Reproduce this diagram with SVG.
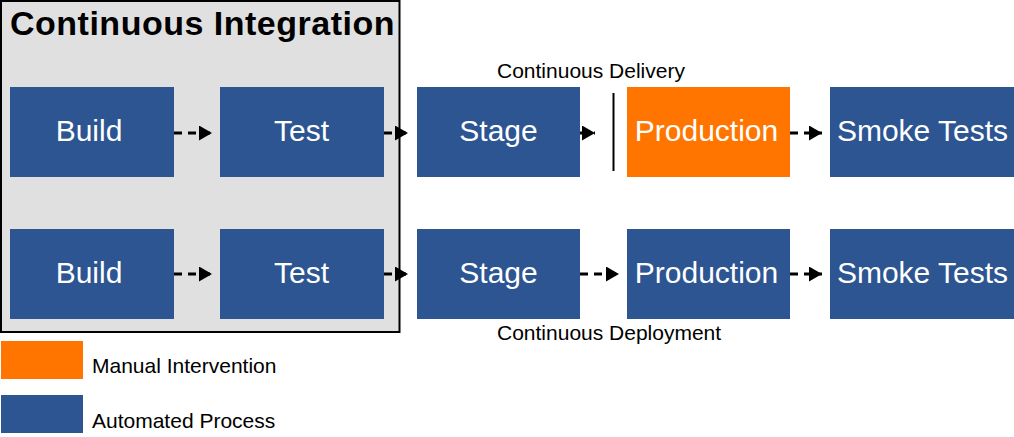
<svg xmlns="http://www.w3.org/2000/svg" width="1014" height="437" viewBox="0 0 1014 437">
<style>
.auto{fill:#2C5592}
.manual{fill:#FF7500}
.nt{font-family:"Liberation Sans",Arial,sans-serif;font-size:30px;fill:#fff;text-anchor:middle}
.lbl{font-family:"Liberation Sans",Arial,sans-serif;font-size:21px;fill:#000}
.conn{stroke:#000;stroke-width:3;stroke-dasharray:8 6;fill:none}
</style>
<defs>
<marker id="ah" markerUnits="userSpaceOnUse" markerWidth="14" markerHeight="15" refX="13" refY="7.5" orient="auto" viewBox="0 0 14 15">
<path d="M0,0 L13,7.5 L0,15 z" fill="#000"/>
</marker>
</defs>
<rect width="1014" height="437" fill="#fff"/>
<g id="ci">
<rect x="1" y="1" width="398.5" height="331" fill="#E0E0E0" stroke="#000" stroke-width="2"/>
<text x="10" y="35" font-family="'Liberation Sans',Arial,sans-serif" font-weight="bold" font-size="34" letter-spacing="0.5" fill="#000">Continuous Integration</text>
</g>
<g id="build1"><rect class="auto" x="10" y="87" width="164" height="90"/><text class="nt" x="89" y="140.5">Build</text></g>
<g id="test1"><rect class="auto" x="220" y="87" width="164" height="90"/><text class="nt" x="301.5" y="140.5">Test</text></g>
<g id="stage1"><rect class="auto" x="417" y="87" width="163" height="90"/><text class="nt" x="498.5" y="140.5">Stage</text></g>
<g id="prod1"><rect class="manual" x="627" y="87" width="163" height="90"/><text class="nt" x="706.5" y="140.5">Production</text></g>
<g id="smoke1"><rect class="auto" x="830" y="87" width="184" height="90"/><text class="nt" x="922.5" y="140.5">Smoke Tests</text></g>
<g id="build2"><rect class="auto" x="10" y="229" width="164" height="90"/><text class="nt" x="89" y="283">Build</text></g>
<g id="test2"><rect class="auto" x="220" y="229" width="164" height="90"/><text class="nt" x="301.5" y="283">Test</text></g>
<g id="stage2"><rect class="auto" x="417" y="229" width="163" height="90"/><text class="nt" x="498.5" y="283">Stage</text></g>
<g id="prod2"><rect class="auto" x="627" y="229" width="163" height="90"/><text class="nt" x="706.5" y="283">Production</text></g>
<g id="smoke2"><rect class="auto" x="830" y="229" width="184" height="90"/><text class="nt" x="922.5" y="283">Smoke Tests</text></g>
<g id="connectors">
<path class="conn" d="M174,133 H212" marker-end="url(#ah)"/>
<path class="conn" d="M384,133 H408" marker-end="url(#ah)"/>
<path class="conn" d="M580,133 H595" marker-end="url(#ah)"/>
<path class="conn" d="M790,133 H822" marker-end="url(#ah)"/>
<path class="conn" d="M174,274 H212" marker-end="url(#ah)"/>
<path class="conn" d="M384,274 H408" marker-end="url(#ah)"/>
<path class="conn" d="M580,274 H619" marker-end="url(#ah)"/>
<path class="conn" d="M790,274 H822" marker-end="url(#ah)"/>
<line x1="613.5" y1="93" x2="613.5" y2="171" stroke="#000" stroke-width="2"/>
</g>
<g id="labels">
<text class="lbl" x="497" y="77.5">Continuous Delivery</text>
<text class="lbl" x="497" y="340">Continuous Deployment</text>
</g>
<g id="legend">
<rect class="manual" x="1" y="341" width="82" height="38"/>
<text class="lbl" x="92" y="373">Manual Intervention</text>
<rect class="auto" x="1" y="395" width="82" height="38"/>
<text class="lbl" x="92" y="428">Automated Process</text>
</g>
</svg>
